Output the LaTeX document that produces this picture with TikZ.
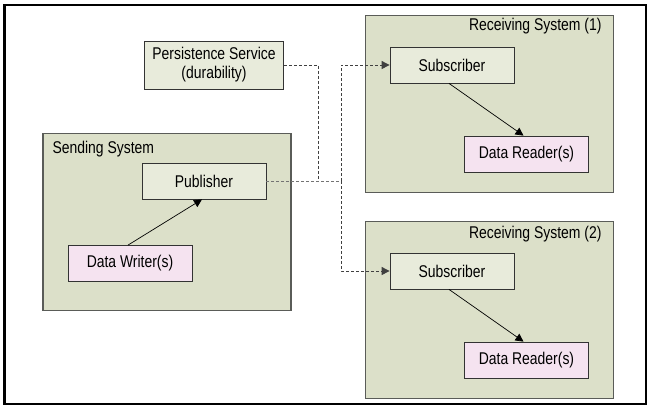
\documentclass[tikz,border=0pt]{standalone}
\usepackage{fontspec}
\setmainfont{Liberation Sans}[FakeStretch=0.82]
\usetikzlibrary{arrows.meta}
\definecolor{sysgreen}{HTML}{DCE0C9}
\definecolor{partgreen}{HTML}{E8EBDB}
\definecolor{datapink}{HTML}{F5E3F0}
\definecolor{edgegray}{HTML}{5A5C58}
\begin{document}
\begin{tikzpicture}[x=1pt, y=-1pt,
	font=\fontsize{17pt}{19pt}\selectfont,
	sysbox/.style={draw=edgegray, line width=1.2pt, fill=sysgreen, minimum width=248pt, minimum height=177pt, inner sep=0pt},
	partbox/.style={draw=black!80, line width=0.8pt, fill=partgreen, minimum width=124pt, minimum height=36pt, inner sep=0pt},
	databox/.style={partbox, fill=datapink},
	flow/.style={-{Triangle[length=8pt,width=8pt]}, line width=0.7pt},
	wire/.style={dash pattern=on 3pt off 2pt, line width=0.9pt}]
	\useasboundingbox (0,0) rectangle (650,408);
	
	% Draw the outer frame
	\draw[line width=2.5pt] (4.5,5) rectangle (646,404);
	
	% Draw the systems
	\node[sysbox] (send) at (167,222) {};
	\node[sysbox] (recvA) at (489.5,104) {};
	\node[sysbox] (recvB) at (489.5,310) {};
	\node[anchor=west] (sendlbl) at (49,149) {Sending System};
	\node[anchor=east] (recvAlbl) at (605,26.5) {Receiving System (1)};
	\node[anchor=east] (recvBlbl) at (605,234) {Receiving System (2)};
	
	% Add the parts inside
	\node[partbox, minimum width=139pt, minimum height=48pt, align=center] (pers) at (214,65) {Persistence Service\\(durability)};
	\node[partbox] (pub) at (204,181) {Publisher};
	\node[databox] (writer) at (130,263.5) {Data Writer(s)};
	\node[partbox] (subA) at (452,65) {Subscriber};
	\node[databox] (readerA) at (526.5,154) {Data Reader(s)};
	\node[partbox] (subB) at (452,271) {Subscriber};
	\node[databox] (readerB) at (526.5,360) {Data Reader(s)};
	
	% Local arrows
	\draw[flow] ([xshift=-2pt]writer.north) -- ([xshift=-2pt]pub.south);
	\draw[flow] ([xshift=-3pt]subA.south) -- ([xshift=-3pt]readerA.north);
	\draw[flow] ([xshift=-3pt]subB.south) -- ([xshift=-3pt]readerB.north);
	
	% Dashed links between the systems
	\coordinate (merge) at (318,181); % Persistence joins here
	\coordinate (hub) at (341,181); % Split to the subscribers
	\draw[wire, black!75] (pers.east) -| (merge);
	\draw[wire, black!55] (pub.east) -- (hub);
	\draw[wire, black!75, flow, line width=0.9pt] (hub) |- (subA.west);
	\draw[wire, black!75, flow, line width=0.9pt] (hub) |- (subB.west);
\end{tikzpicture}
\end{document}
